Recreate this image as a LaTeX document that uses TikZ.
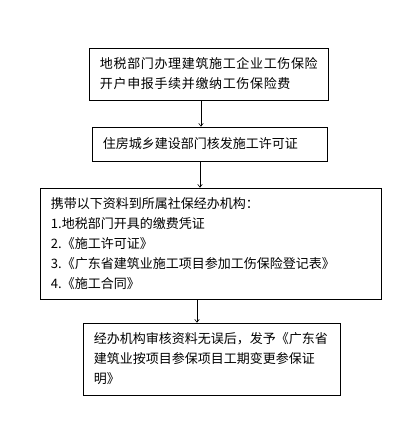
\documentclass[tikz,border=0pt]{standalone}
\usepackage{fontspec}
\setmainfont{Noto Sans CJK SC}
\newfontfamily\cjkwide[LetterSpace=5]{Noto Sans CJK SC}
\usetikzlibrary{arrows.meta}
\begin{document}
\begin{tikzpicture}[x=1bp,y=-1bp,
  flowbox/.style={draw=black,line width=0.8bp,rectangle,align=left,
    inner xsep=11bp,inner ysep=0bp,
    font=\fontsize{13bp}{20bp}\selectfont},
  flowarrow/.style={draw=black,line width=0.6bp,-{To[length=3.5bp,width=5bp]}}]
\useasboundingbox[fill=white] (0,0) rectangle (412,424);
\node[flowbox,text width=217bp,minimum height=52bp,font=\fontsize{13bp}{20bp}\cjkwide] (b1) at (208.5,74)
  {地税部门办理建筑施工企业工伤保险\\开户申报手续并缴纳工伤保险费};
\node[flowbox,text width=213bp,minimum height=34bp] (b2) at (209.5,144)
  {住房城乡建设部门核发施工许可证};
\node[flowbox,text width=319bp,minimum height=111bp] (b3) at (210.5,243.5)
  {携带以下资料到所属社保经办机构：\\1.地税部门开具的缴费凭证\\2.《施工许可证》\\3.《广东省建筑业施工项目参加工伤保险登记表》\\4.《施工合同》};
\node[flowbox,text width=235bp,minimum height=72bp] (b4) at (211.5,359)
  {经办机构审核资料无误后，发予《广东省\\建筑业按项目参保项目工期变更参保证\\明》};
\coordinate (c1) at (201,0);
\coordinate (c2) at (200,0);
\coordinate (c3) at (197,0);
\draw[flowarrow] (b1.south -| c1) -- (b2.north -| c1);
\draw[flowarrow] (b2.south -| c2) -- (b3.north -| c2);
\draw[flowarrow] (b3.south -| c3) -- (b4.north -| c3);
\end{tikzpicture}
\end{document}
